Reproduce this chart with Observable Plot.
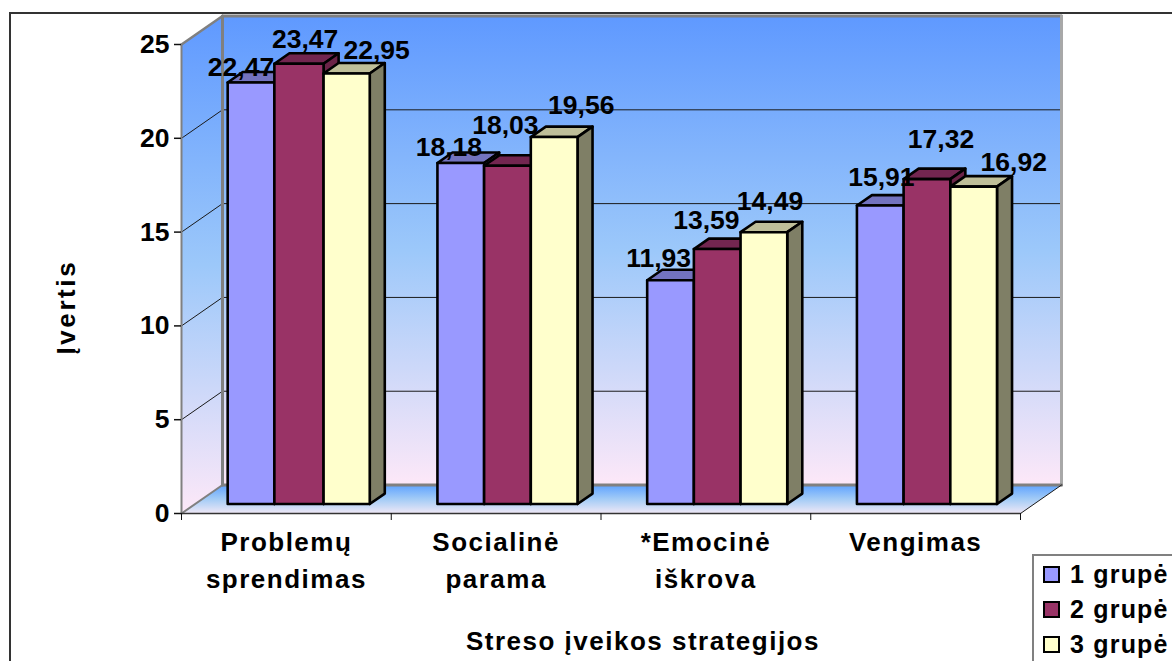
<!DOCTYPE html>
<html>
<head>
<meta charset="utf-8">
<script src="https://cdn.jsdelivr.net/npm/d3@7"></script>
<script src="https://cdn.jsdelivr.net/npm/@observablehq/plot@0.6"></script>
<style>
  html, body { margin: 0; padding: 0; background: #fff; width: 1172px; height: 661px; overflow: hidden; }
  #frame { position: absolute; left: 9px; top: 12px; right: -5px; bottom: -5px; border-top: 2px solid #333; border-left: 2px solid #333; }
  #chart { position: absolute; left: 0; top: 0; }
  #chart svg { background: transparent !important; display: block; }
  #legend { position: absolute; left: 1032px; top: 554px; width: 160px; height: 120px; background: #fff; border: 2px solid #808080; box-sizing: border-box;
    font: bold 25px "Liberation Sans", Arial, sans-serif; color: #000; }
  #legend .row { position: absolute; left: 9px; height: 16px; display: flex; align-items: center; white-space: nowrap; letter-spacing: 1.2px; }
  #legend .sw { width: 13px; height: 13px; border: 2px solid #000; margin-right: 10px; flex: none; }
  .wide text { letter-spacing: 1.5px; }
  .wider text { letter-spacing: 2.6px; }
</style>
</head>
<body>
<div id="frame"></div>
<div id="chart"></div>
<div id="legend"></div>
<script>
const categories = ["Problemų\nsprendimas", "Socialinė\nparama", "*Emocinė\niškrova", "Vengimas"];
const groups = ["1 grupė", "2 grupė", "3 grupė"];
const group1 = [22.47, 18.18, 11.93, 15.91];
const group2 = [23.47, 18.03, 13.59, 17.32];
const group3 = [22.95, 19.56, 14.49, 16.92];
const yTicks = [0, 5, 10, 15, 20, 25];
const xTicks = [0, 1, 2, 3, 4];
const frontColors = ["#9999FF", "#993366", "#FFFFCC"];
const topColors = ["#7373BF", "#732650", "#BFBF99"];
const sideColors = ["#6E6EB8", "#6B2347", "#7F7F66"];
// placement of each value label relative to its bar, in scale units (category width, y unit)
const labelShiftX = [[-0.048, 0.029, 0.143], [-0.057, -0.010, 0.129], [-0.057, -0.052, 0.029], [0.005, 0.067, 0.191]];
const labelShiftY = [[0.80, 1.28, 1.23], [0.83, 2.13, 1.68], [1.17, 1.52, 1.65], [1.49, 2.13, 1.28]];
// small widening of the bar edges in the first category, as drawn in the picture
const edgeNudge = [[0, 0, 0.012, 0.0095], [0, 0, 0, 0], [0, 0, 0, 0], [0, 0, 0, 0]];

const series = [group1, group2, group3];
// floor depth in scale units, bar proportions in scale units
const DX = 0.1955, DY = 1.518, barW = 0.2226, barStart = 0.155, d0 = 1 / 3, d1 = 0.70;
const P = (x, y, d, id, color) => ({x: x + d * DX, y: y + d * DY, id, color});
const poly = (id, color, pts) => [...pts, pts[0]].map(([x, y, d]) => P(x, y, d, id, color));

const bars = [];
const labels = [];
categories.forEach((c, i) => {
  series.forEach((vals, s) => {
    const v = vals[i];
    const x0 = i + barStart + s * barW + edgeNudge[i][s];
    const x1 = i + barStart + (s + 1) * barW + edgeNudge[i][s + 1];
    bars.push(...poly(`t${i}${s}`, topColors[s], [[x0, v, d0], [x1, v, d0], [x1, v, d1], [x0, v, d1]]));
    bars.push(...poly(`s${i}${s}`, sideColors[s], [[x1, 0, d0], [x1, 0, d1], [x1, v, d1], [x1, v, d0]]));
    bars.push(...poly(`f${i}${s}`, frontColors[s], [[x0, 0, d0], [x1, 0, d0], [x1, v, d0], [x0, v, d0]]));
    const anchor = P((x0 + x1) / 2, v, d0);
    labels.push({x: anchor.x + labelShiftX[i][s], y: anchor.y + labelShiftY[i][s], v});
  });
});

const backWall = poly("back", "", [[0, 0, 1], [4, 0, 1], [4, 25, 1], [0, 25, 1]]);
const leftWall = poly("left", "", [[0, 0, 0], [0, 0, 1], [0, 25, 1], [0, 25, 0]]);
const floor = poly("floor", "", [[0, 0, 0], [4, 0, 0], [4, 0, 1], [0, 0, 1]]);
const seg = (a, b) => [P(a[0], a[1], a[2]), P(b[0], b[1], b[2])];
const gridLines = yTicks.filter(t => t > 0 && t < 25).map(t => [P(0, t, 0), P(0, t, 1), P(4, t, 1)]);

const defs = () => {
  const ns = "http://www.w3.org/2000/svg";
  const d = document.createElementNS(ns, "defs");
  const grad = (id, stops) => {
    const g = document.createElementNS(ns, "linearGradient");
    g.setAttribute("id", id);
    g.setAttribute("x1", 0); g.setAttribute("y1", 0); g.setAttribute("x2", 0); g.setAttribute("y2", 1);
    stops.forEach(([o, c]) => {
      const s = document.createElementNS(ns, "stop");
      s.setAttribute("offset", o); s.setAttribute("stop-color", c);
      g.appendChild(s);
    });
    d.appendChild(g);
  };
  grad("wall", [[0, "#5F99FF"], [0.5, "#9CC8FA"], [1, "#FDE8F8"]]);
  grad("floorG", [[0, "#5FA3FF"], [0.5, "#A4CCF6"], [1, "#F0E8F6"]]);
  return d;
};

const fmt = v => v.toFixed(2).replace(".", ",");

const plot = Plot.plot({
  width: 1172,
  height: 661,
  marginLeft: 181,
  marginRight: 152,
  marginTop: 44,
  marginBottom: 148,
  x: {domain: [0, 4], axis: null},
  y: {domain: [0, 25], axis: null},
  color: {type: "identity"},
  style: {fontFamily: "'Liberation Sans', Arial, sans-serif", fontWeight: "bold", fontSize: "26px", color: "#000", background: "transparent", overflow: "visible"},
  marks: [
    defs,
    Plot.line(backWall, {x: "x", y: "y", fill: "url(#wall)", stroke: "none"}),
    Plot.line(leftWall, {x: "x", y: "y", fill: "url(#wall)", stroke: "none"}),
    Plot.line(floor, {x: "x", y: "y", fill: "url(#floorG)", stroke: "none"}),
    ...gridLines.map(g => Plot.line(g, {x: "x", y: "y", stroke: "#1a1a1a", strokeWidth: 1})),
    Plot.line(seg([0, 25, 0], [0, 25, 1]), {x: "x", y: "y", stroke: "#808080", strokeWidth: 2.5}),
    Plot.line(seg([0, 25, 1], [4, 25, 1]), {x: "x", y: "y", stroke: "#808080", strokeWidth: 3}),
    Plot.line(seg([4, 25, 1], [4, 0, 1]), {x: "x", y: "y", stroke: "#a8a8a8", strokeWidth: 3}),
    Plot.line(seg([0, 25, 1], [0, 0, 1]), {x: "x", y: "y", stroke: "#808080", strokeWidth: 3}),
    Plot.line(seg([0, 0, 1], [4, 0, 1]), {x: "x", y: "y", stroke: "#808080", strokeWidth: 3}),
    Plot.line(seg([0, 25, 0], [0, 0, 0]), {x: "x", y: "y", stroke: "#808080", strokeWidth: 2}),
    Plot.line(seg([0, 0, 0], [0, 0, 1]), {x: "x", y: "y", stroke: "#808080", strokeWidth: 2}),
    Plot.line(seg([4, 0, 0], [4, 0, 1]), {x: "x", y: "y", stroke: "#1a1a1a", strokeWidth: 1}),
    Plot.line(seg([0, 0, 0], [4, 0, 0]), {x: "x", y: "y", stroke: "#333", strokeWidth: 1.5}),
    Plot.axisY({ticks: yTicks, tickSize: 7, tickPadding: 5, fontSize: 26.5, fontWeight: "bold", label: null, stroke: "#111", strokeWidth: 1.5}),
    Plot.axisX({ticks: xTicks, tickSize: 7, tickFormat: () => "", label: null, stroke: "#111", strokeWidth: 1}),
    Plot.line(bars, {x: "x", y: "y", z: "id", fill: "color", stroke: "#000", strokeWidth: 2.6, strokeLinejoin: "round"}),
    Plot.text(labels, {x: "x", y: "y", text: d => fmt(d.v), fontSize: 26.5, fontWeight: "bold", fill: "#000"}),
    Plot.text(categories, {x: (d, i) => i + 0.5, y: 0, dy: 12, text: d => d, lineAnchor: "top", lineHeight: 1.4, fontSize: 26, fontWeight: "bold", fill: "#000", className: "wide"}),
    Plot.text(["Streso įveikos strategijos"], {x: 2.2, y: 0, dy: 128, text: d => d, fontSize: 26, fontWeight: "bold", fill: "#000", className: "wide"}),
    Plot.text(["Įvertis"], {x: -0.548, y: 11, text: d => d, rotate: -90, fontSize: 26, fontWeight: "bold", fill: "#000", className: "wider"})
  ]
});
document.getElementById("chart").appendChild(plot);

const legend = document.getElementById("legend");
groups.forEach((g, i) => {
  const row = document.createElement("div");
  row.className = "row";
  row.style.top = (10 + i * 35) + "px";
  const sw = document.createElement("span");
  sw.className = "sw";
  sw.style.background = frontColors[i];
  row.appendChild(sw);
  row.appendChild(document.createTextNode(g));
  legend.appendChild(row);
});
</script>
</body>
</html>
